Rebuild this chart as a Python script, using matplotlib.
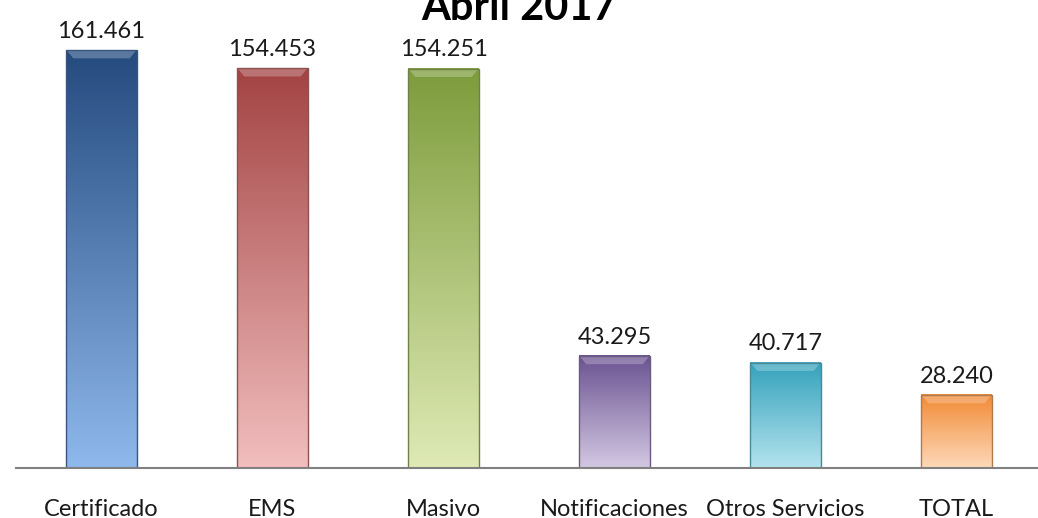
import numpy as np
import matplotlib.pyplot as plt
from matplotlib.colors import LinearSegmentedColormap

# Datos del gráfico
categorias = ['Certificado', 'EMS', 'Masivo', 'Notificaciones', 'Otros Servicios', 'TOTAL']
valores = [161.461, 154.453, 154.251, 43.295, 40.717, 28.240]
etiquetas = ['161.461', '154.453', '154.251', '43.295', '40.717', '28.240']

# Colores (arriba oscuro, abajo claro)
colores_arriba = ['#244a7e', '#a34343', '#7d9c3c', '#6a5290', '#34a2bb', '#f28a34']
colores_abajo = ['#8fb8ec', '#f2bebe', '#dfeab5', '#d3c8e3', '#b4e3ee', '#fdd9ba']
bordes = ['#3a5680', '#8a5252', '#6f8048', '#6a5c80', '#4a8a98', '#b07a50']

plt.rcParams['font.family'] = ['Lato', 'DejaVu Sans']

fig = plt.figure(figsize=(10.38, 5.18), dpi=100)
ax = fig.add_axes([16 / 1038, 50 / 518, 1026 / 1038, 468 / 518])

x = np.arange(len(categorias))
ancho = 0.41
grad = np.linspace(0, 1, 256).reshape(-1, 1)
bisel = 3.2  # alto del bisel superior en unidades de datos

for i, v in enumerate(valores):
    cmap = LinearSegmentedColormap.from_list('g%d' % i, [colores_abajo[i], colores_arriba[i]])
    ax.imshow(grad, cmap=cmap, origin='lower', aspect='auto',
              extent=(x[i] - ancho / 2, x[i] + ancho / 2, 0, v), zorder=2)
    # bisel superior (brillo)
    ax.fill([x[i] - ancho / 2, x[i] + ancho / 2, x[i] + ancho / 2 - 0.04, x[i] - ancho / 2 + 0.04],
            [v, v, v - bisel, v - bisel], color='white', alpha=0.25, lw=0, zorder=3)
    ax.bar(x[i], v, width=ancho, facecolor='none', edgecolor=bordes[i], linewidth=1.0, zorder=3)
    ax.annotate(etiquetas[i], (x[i], v), xytext=(0, 6), textcoords='offset points',
                ha='center', va='bottom', fontsize=17, color='#1a1a1a')

ax.set_xlim(-0.5, len(categorias) - 0.5)
ax.set_ylim(0, 180.8)
ax.set_xticks(x)
ax.set_xticklabels(categorias, fontsize=17, color='#1a1a1a')
ax.tick_params(axis='x', length=0, pad=22)
ax.set_yticks([])
for lado in ['top', 'right', 'left']:
    ax.spines[lado].set_visible(False)
ax.spines['bottom'].set_color('#808080')
ax.spines['bottom'].set_linewidth(1.5)
ax.spines['bottom'].set_zorder(4)

fig.text(0.5, 1 - 20 / 518, 'Abril 2017', ha='center', va='baseline',
         fontsize=30, fontweight='bold', color='black')

fig.savefig('out.png', dpi=100)
